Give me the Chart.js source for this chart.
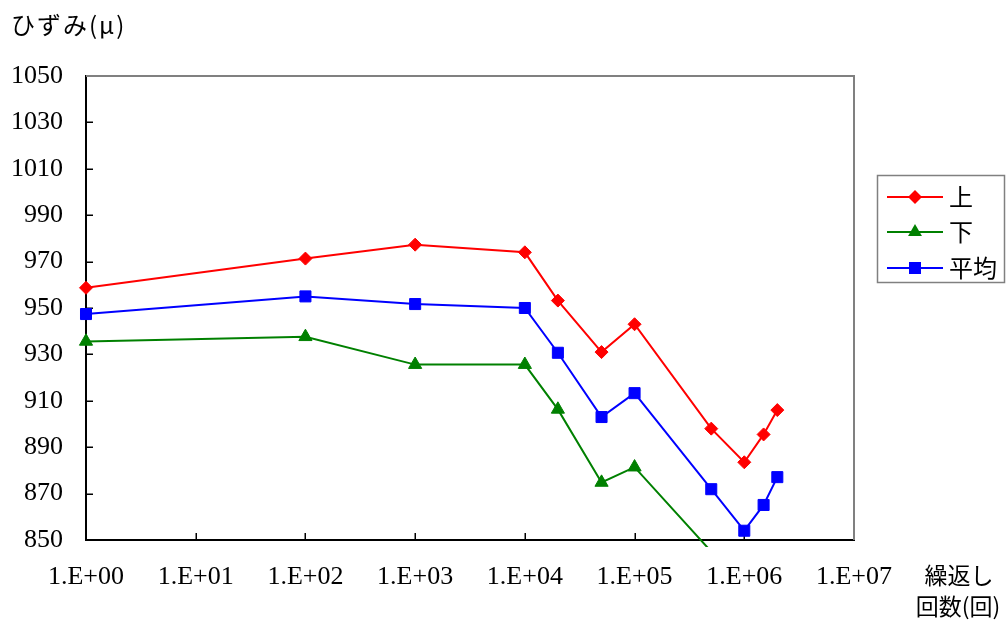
<!DOCTYPE html>
<html>
<head>
<meta charset="utf-8">
<script src="https://cdn.jsdelivr.net/npm/chart.js@4.4.1/dist/chart.umd.min.js"></script>
<style>
  html, body { margin: 0; padding: 0; background: #ffffff; }
  #wrap { width: 1008px; height: 621px; }
</style>
</head>
<body>
<div id="wrap"><canvas id="strainChart" width="1008" height="621"></canvas></div>
<script>
// Repetition counts (log axis) and measured strain per gauge
const cycles      = [1, 100, 1000, 10000, 20000, 50000, 100000, 500000, 1000000, 1500000, 2000000];
const upperStrain = [958.7, 971.3, 977.3, 974.0, 953.2, 931.0, 943.0, 898.0, 883.5, 895.5, 906.0];
const lowerStrain = [935.6, 937.6, 925.6, 925.6, 906.3, 874.8, 881.4, 845.0, null, null, null];
const meanStrain  = [947.4, 955.0, 951.7, 950.0, 930.7, 903.0, 913.3, 871.9, 854.0, 865.1, 877.1];

const seriesNames = ['上', '下', '平均'];
const decadeTicks = [1, 10, 100, 1000, 10000, 100000, 1000000, 10000000];
const strainTicks = [850, 870, 890, 910, 930, 950, 970, 990, 1010, 1030, 1050];

const yTitle = 'ひずみ(μ)';
const xTitleLines = ['繰返し', '回数(回)'];

const SERIF = '"Liberation Serif", "DejaVu Serif", serif';
const CJK = '"Noto Sans CJK JP", "Noto Sans", sans-serif';

const toPoints = (vals) => cycles.map((c, i) => ({ x: c, y: vals[i] }));

function decadeLabel(v) {
  const e = Math.round(Math.log10(v));
  return '1.E+' + String(e).padStart(2, '0');
}

// small marker painter for the legend
function paintMarker(ctx, style, x, y, color) {
  ctx.save();
  ctx.fillStyle = color;
  ctx.beginPath();
  if (style === 'rectRot') {
    const r = 7;
    ctx.moveTo(x, y - r); ctx.lineTo(x + r, y); ctx.lineTo(x, y + r); ctx.lineTo(x - r, y);
  } else if (style === 'triangle') {
    const r = 8;
    ctx.moveTo(x, y - r);
    ctx.lineTo(x + r * Math.sqrt(3) / 2, y + r / 2);
    ctx.lineTo(x - r * Math.sqrt(3) / 2, y + r / 2);
  } else {
    const s = 6;
    ctx.rect(x - s, y - s, 2 * s, 2 * s);
  }
  ctx.closePath();
  ctx.fill();
  ctx.restore();
}

// plot frame and inward tick marks
const framePlugin = {
  id: 'frame',
  beforeDatasetsDraw(chart) {
    const { ctx, chartArea: a, scales } = chart;
    ctx.save();
    ctx.strokeStyle = '#808080';
    ctx.lineWidth = 2;
    ctx.beginPath();
    ctx.moveTo(a.left, a.top);
    ctx.lineTo(a.right, a.top);
    ctx.lineTo(a.right, a.bottom);
    ctx.stroke();

    ctx.strokeStyle = '#000000';
    ctx.lineWidth = 1.5;
    ctx.beginPath();
    strainTicks.slice(1, -1).forEach(v => {
      const py = Math.round(scales.y.getPixelForValue(v)) + 0.25;
      ctx.moveTo(a.left, py);
      ctx.lineTo(a.left + 7, py);
    });
    decadeTicks.slice(1, -1).forEach(v => {
      const px = Math.round(scales.x.getPixelForValue(v)) + 0.25;
      ctx.moveTo(px, a.bottom);
      ctx.lineTo(px, a.bottom - 7);
    });
    ctx.stroke();
    ctx.restore();
  }
};

// axis captions and the boxed legend
const annotatePlugin = {
  id: 'annotate',
  afterDraw(chart) {
    const { ctx } = chart;
    ctx.save();
    ctx.fillStyle = '#000000';
    ctx.textBaseline = 'middle';

    ctx.font = '24px ' + CJK;
    ctx.textAlign = 'left';
    if ('letterSpacing' in ctx) ctx.letterSpacing = '2px';
    ctx.fillText(yTitle, 11, 25);
    if ('letterSpacing' in ctx) ctx.letterSpacing = '0px';

    ctx.font = '23px ' + CJK;
    ctx.textAlign = 'center';
    ctx.fillText(xTitleLines[0], 959, 575);
    ctx.fillText(xTitleLines[1], 958, 606);

    // legend box
    const bx = 877.5, by = 175.5, bw = 127, bh = 107;
    ctx.strokeStyle = '#808080';
    ctx.lineWidth = 1.5;
    ctx.strokeRect(bx, by, bw, bh);

    const rows = [197, 232, 268];
    chart.data.datasets.forEach((ds, i) => {
      const y = rows[i];
      ctx.strokeStyle = ds.borderColor;
      ctx.lineWidth = 2;
      ctx.beginPath();
      ctx.moveTo(887, y);
      ctx.lineTo(943, y);
      ctx.stroke();
      paintMarker(ctx, ds.pointStyle, 915, y, ds.borderColor);
      ctx.fillStyle = '#000000';
      ctx.textAlign = 'left';
      ctx.font = '24px ' + CJK;
      ctx.fillText(ds.label, 949, y);
    });
    ctx.restore();
  }
};

const clipBox = { left: 12, top: 12, right: 12, bottom: 7 };

new Chart(document.getElementById('strainChart'), {
  type: 'line',
  data: {
    datasets: [
      {
        label: seriesNames[0],
        data: toPoints(upperStrain),
        borderColor: '#FF0000',
        backgroundColor: '#FF0000',
        pointStyle: 'rectRot',
        pointRadius: 6.5,
        pointBorderWidth: 1,
        borderWidth: 2,
        clip: clipBox
      },
      {
        label: seriesNames[1],
        data: toPoints(lowerStrain),
        borderColor: '#008000',
        backgroundColor: '#008000',
        pointStyle: 'triangle',
        pointRadius: 7.6,
        pointBorderWidth: 1,
        borderWidth: 2,
        clip: clipBox
      },
      {
        label: seriesNames[2],
        data: toPoints(meanStrain),
        borderColor: '#0000FF',
        backgroundColor: '#0000FF',
        pointStyle: 'rect',
        pointRadius: 7.8,
        pointBorderWidth: 1,
        borderWidth: 2,
        clip: clipBox
      }
    ]
  },
  options: {
    responsive: false,
    animation: false,
    devicePixelRatio: 1,
    layout: { padding: { left: 0, right: 154, top: 76, bottom: 0 } },
    elements: { line: { tension: 0, fill: false } },
    plugins: {
      legend: { display: false },
      title: { display: false },
      tooltip: { enabled: false }
    },
    scales: {
      x: {
        type: 'logarithmic',
        position: 'bottom',
        min: 1,
        max: 10000000,
        afterBuildTicks: (s) => { s.ticks = decadeTicks.map(v => ({ value: v })); },
        afterFit: (s) => { s.height = 81; },
        grid: { display: false, drawTicks: false },
        border: { display: true, color: '#000000', width: 2 },
        ticks: {
          autoSkip: false,
          maxRotation: 0,
          minRotation: 0,
          padding: 22,
          color: '#000000',
          font: { family: SERIF, size: 26 },
          callback: (v) => decadeLabel(v)
        }
      },
      y: {
        type: 'linear',
        position: 'left',
        min: 850,
        max: 1050,
        afterBuildTicks: (s) => { s.ticks = strainTicks.map(v => ({ value: v })); },
        afterFit: (s) => { s.width = 86; },
        grid: { display: false, drawTicks: false },
        border: { display: true, color: '#000000', width: 2 },
        ticks: {
          autoSkip: false,
          padding: 23,
          color: '#000000',
          font: { family: SERIF, size: 26 },
          callback: (v) => String(v)
        }
      }
    }
  },
  plugins: [framePlugin, annotatePlugin]
});
</script>
</body>
</html>
